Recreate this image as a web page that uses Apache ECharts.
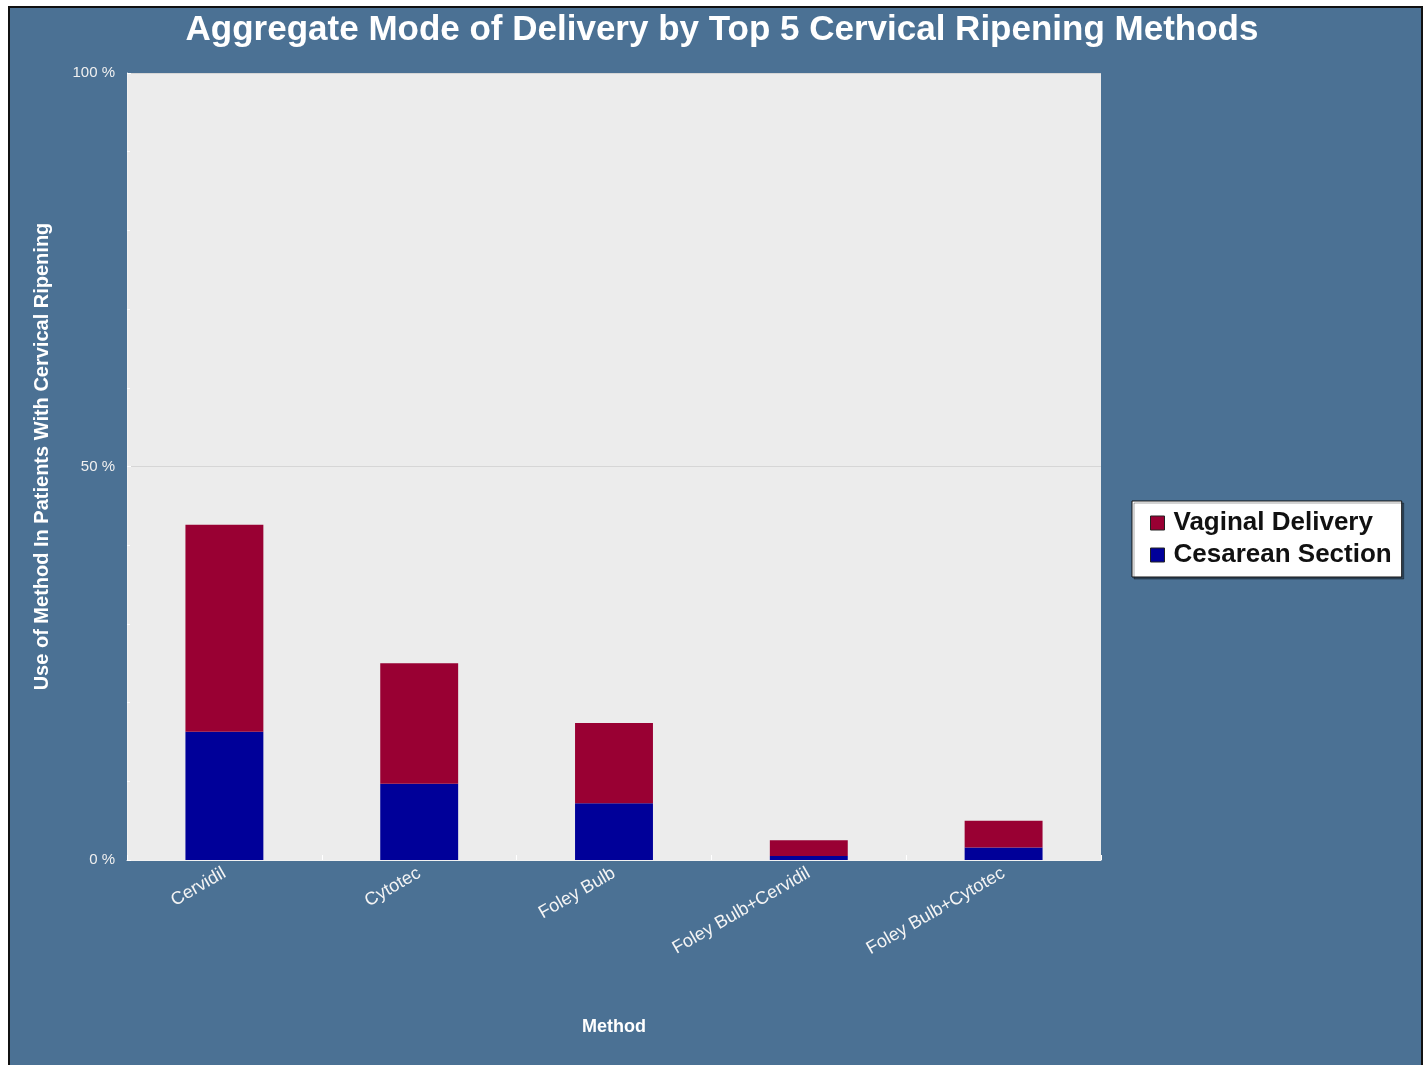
<!DOCTYPE html>
<html>
<head>
<meta charset="utf-8">
<script src="https://cdn.jsdelivr.net/npm/echarts@6/dist/echarts.min.js"></script>
<style>
  html, body { margin: 0; padding: 0; background: #ffffff; }
  #frame {
    position: absolute; left: 8px; top: 6px;
    width: 1411px; height: 1059px;
    border-left: 2px solid #111; border-top: 2px solid #111; border-right: 2px solid #111;
    background: #4b7194;
  }
  #chart { width: 1411px; height: 1059px; }
</style>
</head>
<body>
<div id="frame"><div id="chart"></div></div>
<script>
// categories and values (percent of patients)
var methods = ['Cervidil', 'Cytotec', 'Foley Bulb', 'Foley Bulb+Cervidil', 'Foley Bulb+Cytotec'];
var cesarean = [16.3, 9.7, 7.2, 0.5, 1.6];
var vaginal = [26.3, 15.3, 10.2, 2.0, 3.4];
var yTicks = [0, 50, 100];

var font = '"Liberation Sans", Arial, Helvetica, sans-serif';
var myChart = echarts.init(document.getElementById('chart'));

var option = {
  backgroundColor: '#4b7194',
  animation: false,
  title: {
    text: 'Aggregate Mode of Delivery by Top 5 Cervical Ripening Methods',
    left: 707,
    textAlign: 'center',
    top: 0,
    textStyle: { color: '#ffffff', fontSize: 35, fontWeight: 'bold', fontFamily: font }
  },
  legend: {
    orient: 'vertical',
    left: 1122,
    top: 493,
    data: ['Vaginal Delivery', 'Cesarean Section'],
    backgroundColor: '#ffffff',
    borderColor: '#111',
    borderWidth: 1,
    padding: [9, 10, 9, 18],
    itemGap: 6,
    itemWidth: 14,
    itemHeight: 14,
    icon: 'rect',
    itemStyle: { borderColor: '#222', borderWidth: 1 },
    shadowColor: 'rgba(0,0,0,0.35)',
    shadowOffsetX: 2,
    shadowOffsetY: 2,
    textStyle: { color: '#111', fontSize: 26, fontWeight: 'bold', fontFamily: font, padding: [0, 0, 0, 4] }
  },
  grid: {
    left: 117, right: 320, top: 65, bottom: 207,
    show: true, backgroundColor: '#ececec', borderWidth: 0
  },
  xAxis: {
    type: 'category',
    data: methods,
    name: 'Method',
    nameLocation: 'middle',
    nameGap: 158,
    nameTextStyle: { color: '#ffffff', fontSize: 18, fontWeight: 'bold', fontFamily: font },
    axisLine: { show: true, lineStyle: { color: '#f2f2f2', width: 1 } },
    axisTick: { show: true, inside: true, length: 5, lineStyle: { color: '#ffffff' } },
    axisLabel: { rotate: 30, margin: 12, color: '#f4f4f4', fontSize: 18, fontFamily: font }
  },
  yAxis: {
    type: 'value',
    min: 0, max: 100, interval: 50,
    name: 'Use of Method In Patients With Cervical Ripening',
    nameLocation: 'middle',
    nameGap: 75,
    nameTextStyle: { color: '#ffffff', fontSize: 20, fontWeight: 'bold', fontFamily: font, padding: [0, 0, 0, 20] },
    axisLine: { show: true, lineStyle: { color: '#f2f2f2', width: 1 } },
    axisTick: { show: true, inside: true, length: 4, lineStyle: { color: '#ffffff' } },
    minorTick: { show: true, splitNumber: 5, length: 3, lineStyle: { color: '#ffffff' } },
    splitLine: { show: true, lineStyle: { color: '#d6d6d6', width: 1 } },
    axisLabel: {
      margin: 12, color: '#f0f0f0', fontSize: 15, fontFamily: font,
      formatter: function (v) { return yTicks.indexOf(v) >= 0 ? v + ' %' : ''; }
    }
  },
  series: [
    {
      name: 'Cesarean Section',
      type: 'bar',
      stack: 'total',
      barWidth: '40%',
      itemStyle: { color: '#000099' },
      data: cesarean
    },
    {
      name: 'Vaginal Delivery',
      type: 'bar',
      stack: 'total',
      barWidth: '40%',
      itemStyle: { color: '#990033' },
      data: vaginal
    }
  ]
};

myChart.setOption(option);
</script>
</body>
</html>
